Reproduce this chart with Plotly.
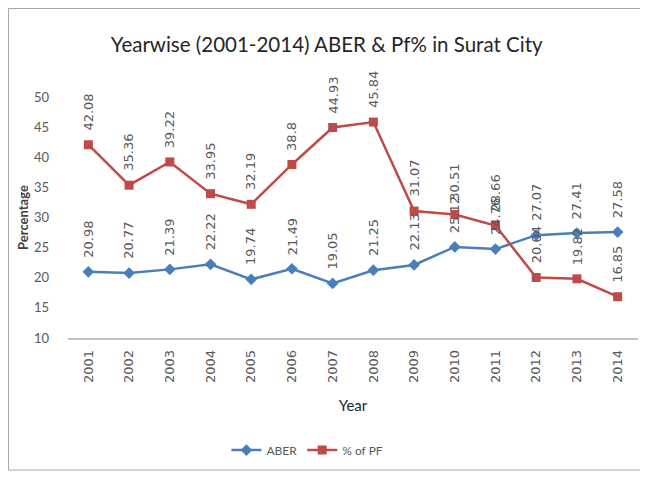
import plotly.graph_objects as go

years = ["2001", "2002", "2003", "2004", "2005", "2006", "2007",
         "2008", "2009", "2010", "2011", "2012", "2013", "2014"]
aber = [20.98, 20.77, 21.39, 22.22, 19.74, 21.49, 19.05,
        21.25, 22.13, 25.12, 24.76, 27.07, 27.41, 27.58]
pf = [42.08, 35.36, 39.22, 33.95, 32.19, 38.8, 44.93,
      45.84, 31.07, 30.51, 28.66, 20.04, 19.82, 16.85]
y_ticks = [10, 15, 20, 25, 30, 35, 40, 45, 50]

BLUE = "#4A7EBB"
RED = "#BE4B48"
GRAY_TXT = "#595959"
TITLE_FONT = "Lato, sans-serif"
LABEL_FONT = "DejaVu Sans, sans-serif"

fig = go.Figure()
fig.add_trace(go.Scatter(
    x=years, y=aber, name="ABER", mode="lines+markers",
    line=dict(color=BLUE, width=2.5),
    marker=dict(symbol="diamond", size=9, color=BLUE),
))
fig.add_trace(go.Scatter(
    x=years, y=pf, name="% of PF", mode="lines+markers",
    line=dict(color=RED, width=2.5),
    marker=dict(symbol="square", size=9, color=RED),
))

annotations = []
for series in (aber, pf):
    for i, v in enumerate(series):
        annotations.append(dict(
            x=i, y=v, xref="x", yref="y", text=f"{v:g}",
            showarrow=False, textangle=-90, yanchor="bottom",
            xanchor="center", yshift=12,
            font=dict(family=LABEL_FONT, size=13, color=GRAY_TXT),
        ))

fig.update_layout(
    width=640, height=469,
    margin=dict(l=60, r=10, t=89, b=139),
    paper_bgcolor="white", plot_bgcolor="white",
    title=dict(
        text="Yearwise (2001-2014) ABER &amp; Pf% in Surat City",
        x=0.498, xref="container", xanchor="center",
        y=0.921, yref="container", yanchor="middle",
        font=dict(family=TITLE_FONT, size=20.5, color="#262626"),
    ),
    showlegend=True,
    legend=dict(
        orientation="h", x=0.42, xanchor="center", y=-0.465, yanchor="middle",
        font=dict(family=TITLE_FONT, size=12, color=GRAY_TXT),
        itemwidth=30, tracegroupgap=0,
    ),
    annotations=annotations,
    shapes=[dict(
        type="rect", xref="paper", yref="paper",
        x0=-0.1044, x1=1.0123, y0=-0.5477, y1=1.3672,
        line=dict(color="#A6A6A6", width=1), fillcolor="rgba(0,0,0,0)",
        layer="below",
    )],
)

fig.update_xaxes(
    type="category", range=[-0.5, 13.5],
    showline=True, linecolor="#BFBFBF", linewidth=1.5,
    showgrid=False, zeroline=False, ticks="",
    tickangle=-90, ticklabelstandoff=5,
    tickfont=dict(family=LABEL_FONT, size=13, color=GRAY_TXT),
    title=dict(text="Year", standoff=18,
               font=dict(family=TITLE_FONT, size=15, color="#262626")),
)
fig.update_yaxes(
    range=[10, 50], tickvals=y_ticks,
    showline=False, showgrid=False, zeroline=False, ticks="",
    ticklabelstandoff=18,
    tickfont=dict(family=TITLE_FONT, size=13, color=GRAY_TXT),
    title=dict(text="<b>Percentage</b>", standoff=2,
               font=dict(family=TITLE_FONT, size=13, color="#404040")),
)

fig.write_html("out.html")
